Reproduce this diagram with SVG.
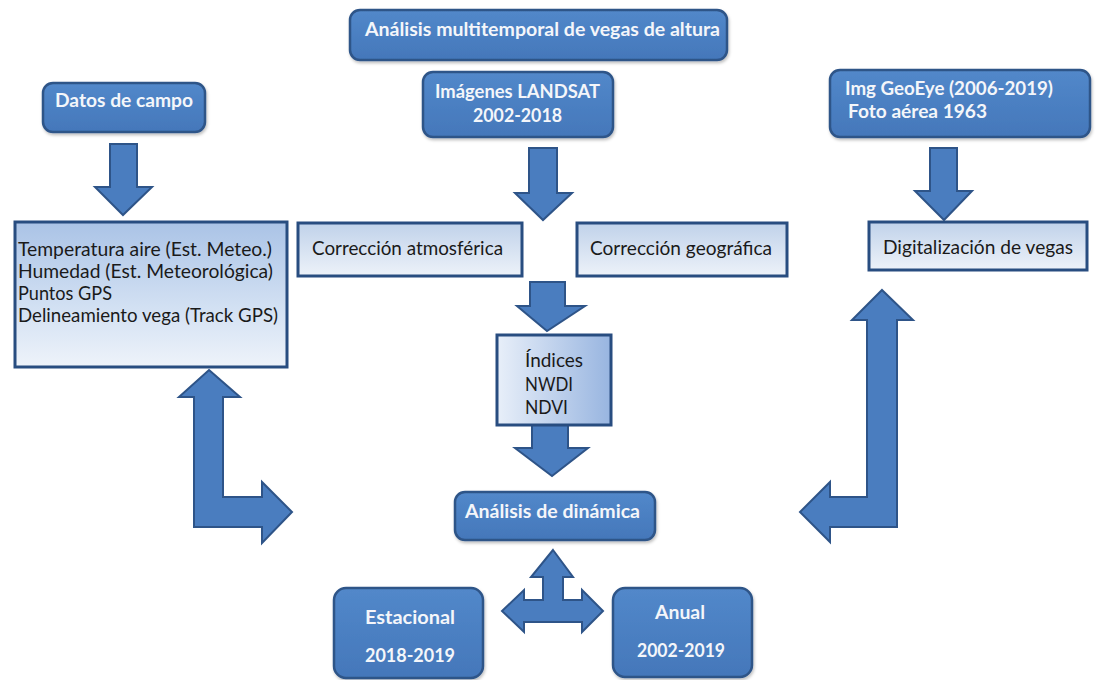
<svg xmlns="http://www.w3.org/2000/svg" width="1099" height="680" viewBox="0 0 1099 680">
<defs>
<linearGradient id="gLight" x1="0" y1="0" x2="0" y2="1">
<stop offset="0" stop-color="#C0D2EA"/>
<stop offset="1" stop-color="#EDF2F9"/>
</linearGradient>
<linearGradient id="gLeft" x1="0" y1="0" x2="0" y2="1">
<stop offset="0" stop-color="#AAC3E6"/>
<stop offset="0.6" stop-color="#D3E1F3"/>
<stop offset="1" stop-color="#EEF3FA"/>
</linearGradient>
<linearGradient id="gIdx" x1="0" y1="0" x2="1" y2="0">
<stop offset="0" stop-color="#E8EFF9"/>
<stop offset="1" stop-color="#98B5E0"/>
</linearGradient>
<linearGradient id="gDark" x1="0" y1="0" x2="0" y2="1">
<stop offset="0" stop-color="#5288CA"/>
<stop offset="1" stop-color="#4477BA"/>
</linearGradient>
<filter id="sh" x="-10%" y="-10%" width="125%" height="130%">
<feDropShadow dx="1" dy="2" stdDeviation="1.5" flood-color="#000" flood-opacity="0.25"/>
</filter>
</defs>
<style>
.dark{fill:url(#gDark);stroke:#2E5488;stroke-width:2.5;filter:url(#sh)}
.light{stroke:#284D80;stroke-width:3}
.arrow{fill:#4A7DBF;stroke:#2E5488;stroke-width:2;stroke-linejoin:miter}
.tw{font-family:Lato,"Liberation Sans",sans-serif;font-weight:bold;font-size:19px;fill:#F4F6FA}
.tb{font-family:Lato,"Liberation Sans",sans-serif;font-size:20px;fill:#1A1A1A}
.tl{font-family:Lato,"Liberation Sans",sans-serif;font-size:19px;fill:#1A1A1A}
</style>
<rect width="1099" height="680" fill="#FFFFFF"/>
<g id="connectors">
<path class="arrow" d="M110,144 H137 V187 H152 L123,215 L95,187 H110 Z"/>
<path class="arrow" d="M529,148 H557 V193 H572 L543,220 L515,193 H529 Z"/>
<path class="arrow" d="M930,148 H957 V191 H972 L944,220 L915,191 H930 Z"/>
<path class="arrow" d="M530,282 H565 V306 H585 L547,331 L517,306 H530 Z"/>
<path class="arrow" d="M532,425 H568 V448 H588 L552,476 L515,448 H532 Z"/>
<path class="arrow" d="M209,370 L240,397 H223 V497 H262 V482 L292,512 L262,543 V527 H194 V397 H179 Z"/>
<path class="arrow" d="M882,290 L913,320 H897 V527 H830 V542 L800,512 L830,482 V497 H867 V320 H852 Z"/>
<path class="arrow" d="M553,550 L573,577 H563 V600 H582 V590 L603,611 L582,632 V622 H524 V632 L502,611 L524,590 V600 H543 V577 H531 Z"/>
</g>
<g id="title">
<rect class="dark" x="350" y="10" width="377" height="50" rx="10"/>
<text class="tw" x="365" y="36" textLength="355" lengthAdjust="spacingAndGlyphs">Análisis multitemporal de vegas de altura</text>
</g>
<g id="landsat">
<rect class="dark" x="423" y="72" width="190" height="65" rx="10"/>
<text class="tw" x="435" y="98" textLength="165" lengthAdjust="spacingAndGlyphs">Imágenes LANDSAT</text>
<text class="tw" x="473" y="122" textLength="89" lengthAdjust="spacingAndGlyphs">2002-2018</text>
</g>
<g id="datos">
<rect class="dark" x="43" y="83" width="162" height="49" rx="10"/>
<text class="tw" x="55" y="107" font-size="18" textLength="138" lengthAdjust="spacingAndGlyphs">Datos de campo</text>
</g>
<g id="geoeye">
<rect class="dark" x="830" y="70" width="260" height="67" rx="10"/>
<text class="tw" x="845" y="95" textLength="208" lengthAdjust="spacingAndGlyphs">Img GeoEye (2006-2019)</text>
<text class="tw" x="848" y="118" textLength="139" lengthAdjust="spacingAndGlyphs">Foto aérea 1963</text>
</g>
<g id="campo">
<rect class="light" x="15" y="222" width="272" height="145" fill="url(#gLeft)"/>
<text class="tl" x="18" y="256" textLength="254" lengthAdjust="spacingAndGlyphs">Temperatura aire (Est. Meteo.)</text>
<text class="tl" x="18" y="278" textLength="255" lengthAdjust="spacingAndGlyphs">Humedad  (Est. Meteorológica)</text>
<text class="tl" x="18" y="300" textLength="94" lengthAdjust="spacingAndGlyphs">Puntos  GPS</text>
<text class="tl" x="18" y="322" textLength="260" lengthAdjust="spacingAndGlyphs">Delineamiento vega (Track GPS)</text>
</g>
<g id="corr-atm">
<rect class="light" x="298" y="223" width="224" height="53" fill="url(#gLight)"/>
<text class="tb" x="312" y="255" textLength="191" lengthAdjust="spacingAndGlyphs">Corrección  atmosférica</text>
</g>
<g id="corr-geo">
<rect class="light" x="577" y="223" width="210" height="53" fill="url(#gLight)"/>
<text class="tb" x="590" y="255" textLength="182" lengthAdjust="spacingAndGlyphs">Corrección  geográfica</text>
</g>
<g id="digital">
<rect class="light" x="869" y="222" width="218" height="48" fill="url(#gLight)"/>
<text class="tb" x="883" y="254" textLength="190" lengthAdjust="spacingAndGlyphs">Digitalización de vegas</text>
</g>
<g id="indices">
<rect class="light" x="497" y="335" width="114" height="90" fill="url(#gIdx)"/>
<text class="tl" x="525" y="367" textLength="58" lengthAdjust="spacingAndGlyphs">Índices</text>
<text class="tl" x="525" y="391" textLength="48" lengthAdjust="spacingAndGlyphs">NWDI</text>
<text class="tl" x="525" y="414" textLength="43" lengthAdjust="spacingAndGlyphs">NDVI</text>
</g>
<g id="dinamica">
<rect class="dark" x="455" y="492" width="200" height="48" rx="10"/>
<text class="tw" x="465" y="518" textLength="175" lengthAdjust="spacingAndGlyphs">Análisis de dinámica</text>
</g>
<g id="estacional">
<rect class="dark" x="334" y="588" width="149" height="90" rx="12"/>
<text class="tw" x="365" y="624" textLength="90" lengthAdjust="spacingAndGlyphs">Estacional</text>
<text class="tw" x="365" y="662" textLength="90" lengthAdjust="spacingAndGlyphs">2018-2019</text>
</g>
<g id="anual">
<rect class="dark" x="613" y="588" width="139" height="89" rx="12"/>
<text class="tw" x="655" y="619" textLength="50" lengthAdjust="spacingAndGlyphs">Anual</text>
<text class="tw" x="637" y="657" textLength="88" lengthAdjust="spacingAndGlyphs">2002-2019</text>
</g>
</svg>
